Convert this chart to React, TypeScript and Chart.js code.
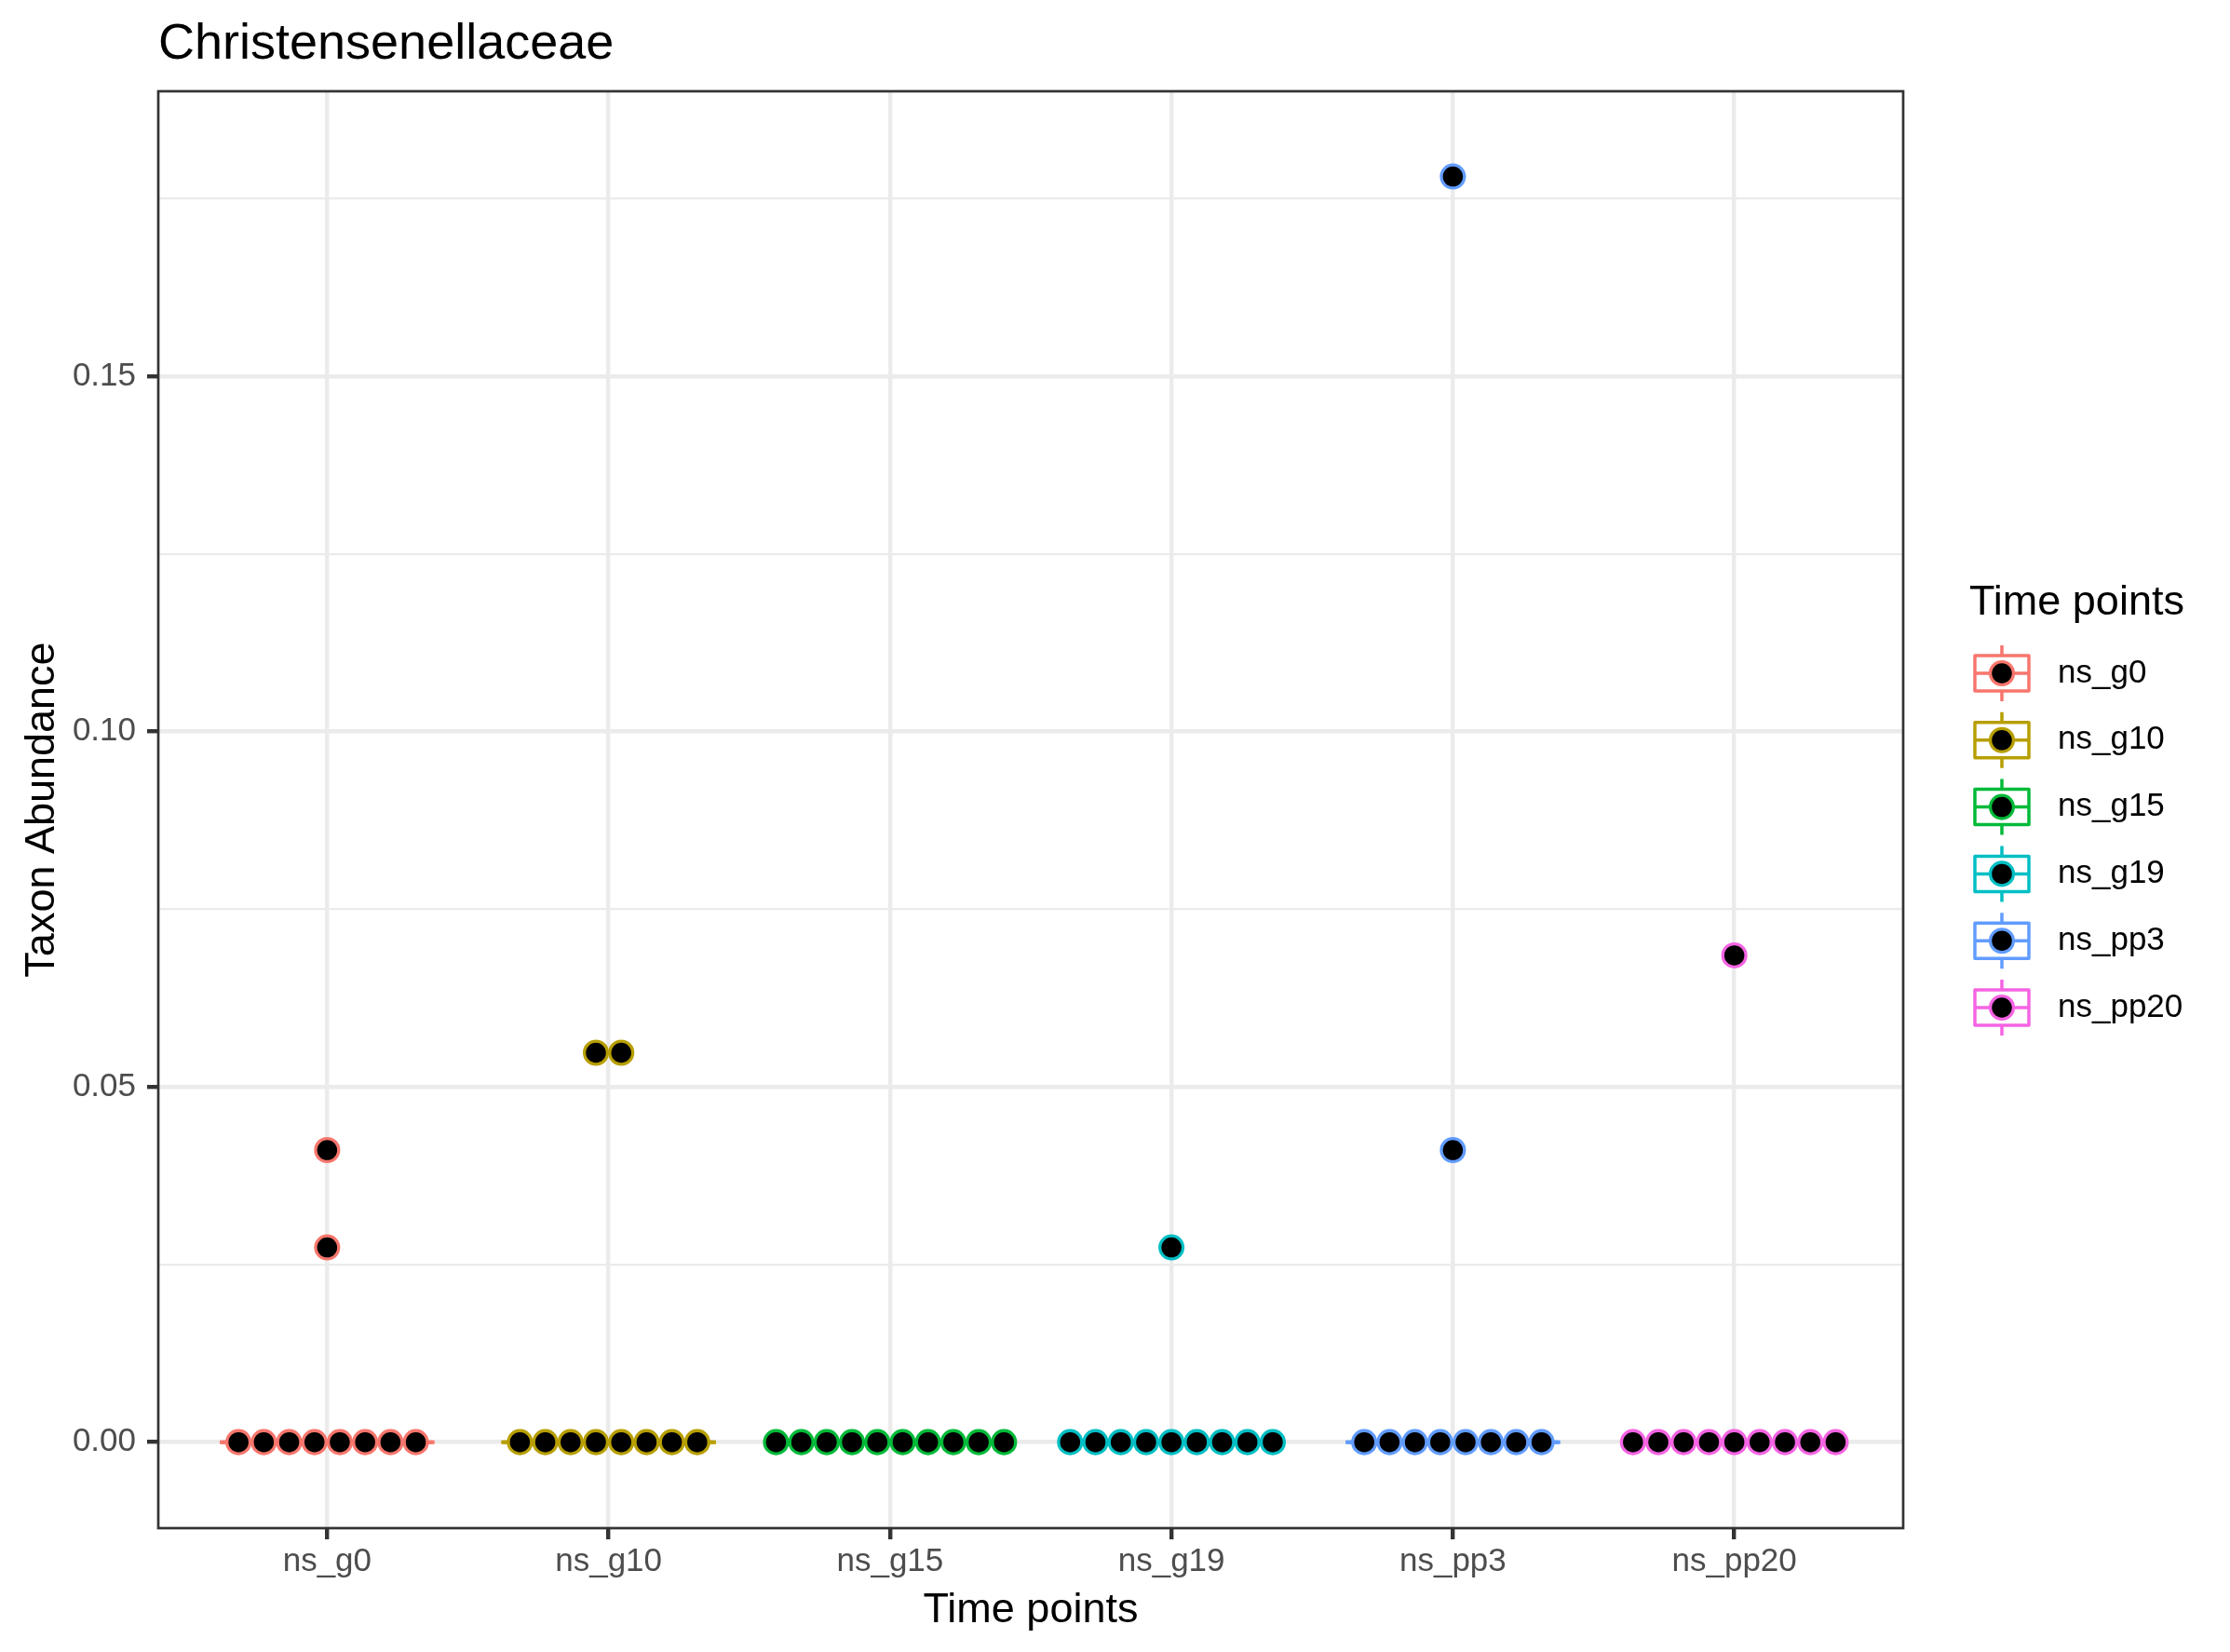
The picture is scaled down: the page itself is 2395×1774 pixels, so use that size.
import React, { useEffect, useRef } from 'react';
import { Chart, registerables } from 'chart.js';

Chart.register(...registerables);

// ---------------- data ----------------
const CATEGORIES = ['ns_g0', 'ns_g10', 'ns_g15', 'ns_g19', 'ns_pp3', 'ns_pp20'];
const NS_G0 = [0, 0, 0, 0, 0, 0, 0, 0, 0.0274, 0.0411];
const NS_G10 = [0, 0, 0, 0, 0, 0, 0, 0, 0.0548, 0.0548];
const NS_G15 = [0, 0, 0, 0, 0, 0, 0, 0, 0, 0];
const NS_G19 = [0, 0, 0, 0, 0, 0, 0, 0, 0, 0.0274];
const NS_PP3 = [0, 0, 0, 0, 0, 0, 0, 0, 0.0411, 0.1781];
const NS_PP20 = [0, 0, 0, 0, 0, 0, 0, 0, 0, 0.0685];
const SERIES = [NS_G0, NS_G10, NS_G15, NS_G19, NS_PP3, NS_PP20];
const COLORS = ['#F8766D', '#B79F00', '#00BA38', '#00BFC4', '#619CFF', '#F564E3'];
const Y_TICKS = [0, 0.05, 0.1, 0.15];
const Y_TICK_LABELS = ['0.00', '0.05', '0.10', '0.15'];
const TITLE = 'Christensenellaceae';
const X_TITLE = 'Time points';
const Y_TITLE = 'Taxon Abundance';
const LEGEND_TITLE = 'Time points';

// ---------------- styling ----------------
const FONT = '"Liberation Sans", Arial, Helvetica, sans-serif';
const DOT_STEP = 0.09; // horizontal spacing of stacked dots (x units)
const BOX_HALF = 0.375;
const GRID = '#EBEBEB';
const DARK = '#333333';

function stackDots(values: number[], idx: number) {
  const counts = new Map<number, number>();
  values.forEach((v) => counts.set(v, (counts.get(v) || 0) + 1));
  const pts: { x: number; y: number }[] = [];
  counts.forEach((n, v) => {
    for (let k = 0; k < n; k++) pts.push({ x: idx + (k - (n - 1) / 2) * DOT_STEP, y: v });
  });
  return pts;
}

function quantile(sorted: number[], p: number) {
  const h = (sorted.length - 1) * p;
  const lo = Math.floor(h);
  const hi = Math.ceil(h);
  return sorted[lo] + (sorted[hi] - sorted[lo]) * (h - lo);
}

function majorIndex(v: number) {
  return Y_TICKS.findIndex((t) => Math.abs(t - v) < 1e-9);
}

const decorPlugin = {
  id: 'decor',
  beforeDatasetsDraw(chart: any) {
    const { ctx, scales } = chart;
    const xs = scales.x;
    const ys = scales.y;
    ctx.save();
    SERIES.forEach((vals, i) => {
      const s = [...vals].sort((a, b) => a - b);
      const q1 = quantile(s, 0.25);
      const med = quantile(s, 0.5);
      const q3 = quantile(s, 0.75);
      const iqr = q3 - q1;
      const inside = s.filter((v) => v >= q1 - 1.5 * iqr && v <= q3 + 1.5 * iqr);
      const lo = Math.min(...inside);
      const hi = Math.max(...inside);
      const xl = xs.getPixelForValue(i - BOX_HALF);
      const xr = xs.getPixelForValue(i + BOX_HALF);
      const xc = xs.getPixelForValue(i);
      ctx.strokeStyle = COLORS[i];
      ctx.lineWidth = 4;
      ctx.lineJoin = 'miter';
      ctx.lineCap = 'square';
      // whiskers
      ctx.beginPath();
      ctx.moveTo(xc, ys.getPixelForValue(q3));
      ctx.lineTo(xc, ys.getPixelForValue(hi));
      ctx.moveTo(xc, ys.getPixelForValue(q1));
      ctx.lineTo(xc, ys.getPixelForValue(lo));
      ctx.stroke();
      // box
      const yt = ys.getPixelForValue(q3);
      const yb = ys.getPixelForValue(q1);
      ctx.strokeRect(xl, yt, xr - xl, yb - yt);
      // median
      ctx.beginPath();
      ctx.moveTo(xl, ys.getPixelForValue(med));
      ctx.lineTo(xr, ys.getPixelForValue(med));
      ctx.stroke();
    });
    ctx.restore();
  },
  afterDatasetsDraw(chart: any) {
    const { ctx, chartArea } = chart;
    ctx.save();
    ctx.strokeStyle = DARK;
    ctx.lineWidth = 2.7;
    ctx.strokeRect(chartArea.left, chartArea.top, chartArea.right - chartArea.left, chartArea.bottom - chartArea.top);
    ctx.restore();
  },
  afterDraw(chart: any) {
    const { ctx, chartArea } = chart;
    ctx.save();
    // plot title
    ctx.fillStyle = '#000000';
    ctx.font = `54px ${FONT}`;
    ctx.textAlign = 'left';
    ctx.textBaseline = 'alphabetic';
    ctx.fillText(TITLE, chartArea.left, 63);
    // x title
    ctx.font = `45px ${FONT}`;
    ctx.textAlign = 'center';
    ctx.fillText(X_TITLE, (chartArea.left + chartArea.right) / 2, 1742);
    // y title
    ctx.save();
    ctx.translate(58, (chartArea.top + chartArea.bottom) / 2);
    ctx.rotate(-Math.PI / 2);
    ctx.textAlign = 'center';
    ctx.fillText(Y_TITLE, 0, 0);
    ctx.restore();
    // legend
    ctx.textAlign = 'left';
    ctx.font = `45px ${FONT}`;
    ctx.fillText(LEGEND_TITLE, 2115, 660);
    CATEGORIES.forEach((name, i) => {
      const cy = 723 + i * 71.8;
      const xl = 2121;
      const xr = 2179;
      const xc = 2150;
      ctx.strokeStyle = COLORS[i];
      ctx.lineWidth = 3.5;
      ctx.lineCap = 'butt';
      ctx.beginPath();
      ctx.moveTo(xc, cy - 30);
      ctx.lineTo(xc, cy - 19);
      ctx.moveTo(xc, cy + 19);
      ctx.lineTo(xc, cy + 30);
      ctx.moveTo(xl, cy);
      ctx.lineTo(xr, cy);
      ctx.stroke();
      ctx.lineJoin = 'round';
      ctx.strokeRect(xl, cy - 19, xr - xl, 38);
      ctx.beginPath();
      ctx.arc(xc, cy, 12.4, 0, Math.PI * 2);
      ctx.fillStyle = '#000000';
      ctx.fill();
      ctx.lineWidth = 3.3;
      ctx.stroke();
      ctx.fillStyle = '#000000';
      ctx.font = `35px ${FONT}`;
      ctx.textBaseline = 'middle';
      ctx.fillText(name, 2210, cy);
      ctx.textBaseline = 'alphabetic';
    });
    ctx.restore();
  },
};

export default function App() {
  const canvasRef = useRef<HTMLCanvasElement | null>(null);

  useEffect(() => {
    const canvas = canvasRef.current;
    if (!canvas) return;
    const datasets = SERIES.map((vals, i) => ({
      type: 'scatter' as const,
      label: CATEGORIES[i],
      data: stackDots(vals, i),
      pointRadius: 12.4,
      pointHoverRadius: 12.4,
      pointBorderWidth: 3.3,
      pointHoverBorderWidth: 3.3,
      pointBackgroundColor: '#000000',
      pointBorderColor: COLORS[i],
      showLine: false,
    }));

    const chart = new Chart(canvas, {
      type: 'scatter',
      data: { datasets },
      plugins: [decorPlugin],
      options: {
        animation: false,
        responsive: false,
        devicePixelRatio: 1,
        events: [],
        layout: { padding: { left: 0, top: 98, right: 351, bottom: 0 } },
        plugins: {
          legend: { display: false },
          tooltip: { enabled: false },
          title: { display: false },
        },
        scales: {
          x: {
            type: 'linear',
            min: -0.6,
            max: 5.6,
            afterFit: (scale: any) => {
              scale.height = 133;
            },
            border: { display: false },
            grid: {
              color: GRID,
              lineWidth: 4.4,
              drawTicks: true,
              tickLength: 12,
              tickColor: DARK,
              tickWidth: 4.4,
            },
            ticks: {
              stepSize: 1,
              includeBounds: false,
              autoSkip: false,
              maxRotation: 0,
              padding: 3,
              color: '#4D4D4D',
              font: { family: FONT, size: 35 },
              callback: (v: any) => {
                const n = Math.round(Number(v));
                return Math.abs(n - Number(v)) < 1e-9 && CATEGORIES[n] !== undefined ? CATEGORIES[n] : '';
              },
            },
          },
          y: {
            type: 'linear',
            min: -0.0121,
            max: 0.1901,
            afterFit: (scale: any) => {
              scale.width = 170;
            },
            border: { display: false },
            grid: {
              color: GRID,
              lineWidth: (c: any) => (c.tick && majorIndex(c.tick.value) >= 0 ? 4.4 : 2.2),
              drawTicks: true,
              tickLength: 12,
              tickColor: (c: any) => (c.tick && majorIndex(c.tick.value) >= 0 ? DARK : 'rgba(0,0,0,0)'),
              tickWidth: 4.4,
            },
            ticks: {
              stepSize: 0.025,
              includeBounds: false,
              autoSkip: false,
              padding: 12,
              color: '#4D4D4D',
              font: { family: FONT, size: 35 },
              callback: (v: any) => {
                const k = majorIndex(Number(v));
                return k >= 0 ? Y_TICK_LABELS[k] : '';
              },
            },
          },
        },
      } as any,
    });
    return () => chart.destroy();
  }, []);

  return (
    <div style={{ position: 'absolute', left: 0, top: 0, width: 2395, height: 1774, background: '#ffffff' }}>
      <canvas ref={canvasRef} width={2395} height={1774} style={{ width: 2395, height: 1774, display: 'block' }} />
    </div>
  );
}
